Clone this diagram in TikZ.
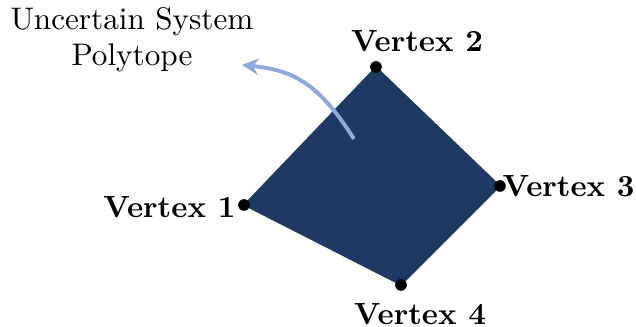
\documentclass[tikz,border=0pt]{standalone}
\usepackage{tikz}
\usetikzlibrary{positioning,arrows.meta}
\definecolor{polyblue}{RGB}{31,56,100}
\definecolor{arrblue}{RGB}{142,169,219}
\tikzset{
  poly/.style={fill=polyblue,draw=polyblue,line join=miter},
  vdot/.style={circle,fill=black,inner sep=0pt,minimum size=3.9pt},
  vlab/.style={font=\fontsize{10.2}{12}\selectfont\bfseries,inner sep=0pt},
  note/.style={align=center,inner sep=0pt,font=\fontsize{10.4}{12}\selectfont},
  pointer/.style={arrblue,line width=1.3pt,-{Stealth[length=5.5pt,width=5.5pt]}}
}
\begin{document}
\begin{tikzpicture}[x=0.3333pt,y=-0.3333pt]
    \useasboundingbox (0,0) rectangle (636,327);
    \coordinate (v1) at (244,205);
    \coordinate (v2) at (376,67);
    \coordinate (v3) at (500,186);
    \coordinate (v4) at (401,285);
    \fill[poly] (v1) -- (v2) -- (v3) -- (v4) -- cycle;
    \node[vdot] (d1) at (v1) {};
    \node[vdot] (d2) at (v2) {};
    \node[vdot] (d3) at (v3) {};
    \node[vdot] (d4) at (v4) {};
    \node[vlab,anchor=base east] (l1) at (236,218) {Vertex 1};
    \node[vlab,anchor=base] (l2) at (417,52) {Vertex 2};
    \node[vlab,anchor=base west] (l3) at (502,197) {Vertex 3};
    \node[vlab,anchor=base] (l4) at (420,325) {Vertex 4};
    \node[note] (txt) at (132,40) {Uncertain System\\Polytope};
    \coordinate (ps) at (354,139);
    \coordinate (pe) at (242,65);
    \draw[pointer] (ps) .. controls (318,82) and (292,70) .. (pe);
  \end{tikzpicture}
\end{document}
